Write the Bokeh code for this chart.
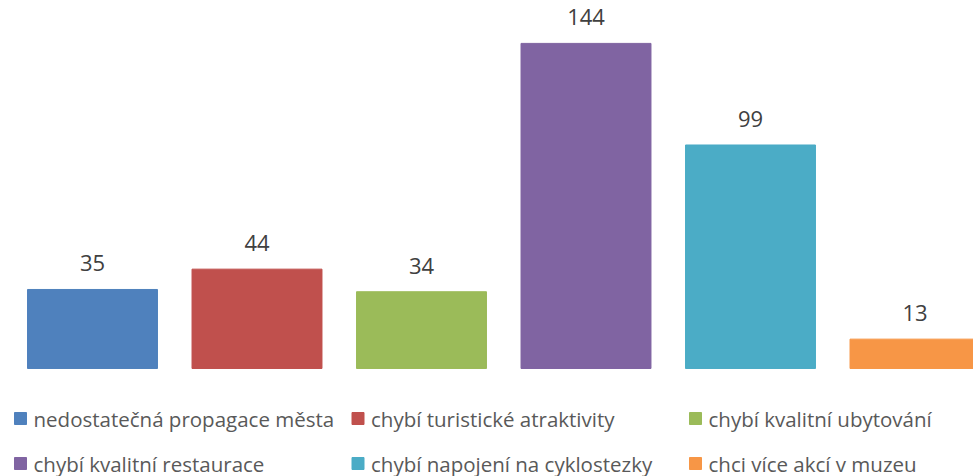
from bokeh.plotting import figure
from bokeh.layouts import column
from bokeh.models import Range1d, ColumnDataSource
from bokeh.core.properties import value
from bokeh.embed import file_html
from bokeh.resources import INLINE

categories = ["nedostatečná propagace města", "chybí turistické atraktivity",
              "chybí kvalitní ubytování", "chybí kvalitní restaurace",
              "chybí napojení na cyklostezky", "chci více akcí v muzeu"]
counts = [35, 44, 34, 144, 99, 13]
colors = ["#4F81BD", "#C0504D", "#9BBB59", "#8064A2", "#4BACC6", "#F79646"]

FONT = "Open Sans"

idx = list(range(len(categories)))
src = ColumnDataSource(dict(x=idx, top=counts, color=colors,
                            label=[str(c) for c in counts], cat=categories))

p = figure(width=973, height=390, output_backend="svg", toolbar_location=None,
           x_range=Range1d(-0.5593, 5.3556), y_range=Range1d(-9.75, 163.0),
           min_border=0, outline_line_color=None)
p.vbar(x="x", top="top", bottom=0, width=0.79, color="color", source=src)
p.text(x="x", y="top", text="label", source=src, y_offset=-26,
       text_align="center", text_baseline="middle", text_color="#404040",
       text_font=value(FONT), text_font_size="22px")
p.axis.visible = False
p.grid.visible = False

# legend figure (coordinates in reference pixels)
ncol = 3
lx = [20 + 337.5 * (i % ncol) for i in idx]
ly = [418 + 45 * (i // ncol) for i in idx]
lsrc = ColumnDataSource(dict(x=lx, y=ly, tx=[v + 13 for v in lx],
                             color=colors, cat=categories))
lg = figure(width=973, height=86, output_backend="svg", toolbar_location=None,
            x_range=Range1d(0, 973), y_range=Range1d(476, 390),
            min_border=0, outline_line_color=None)
lg.rect(x="x", y="y", width=12, height=12, color="color", source=lsrc,
        width_units="screen", height_units="screen")
lg.text(x="tx", y="y", text="cat", source=lsrc, text_baseline="middle",
        text_align="left", text_color="#595959", text_font=value(FONT),
        text_font_size="20.5px")
lg.axis.visible = False
lg.grid.visible = False

layout = column(p, lg, spacing=0)
open("out.html", "w").write(file_html(layout, INLINE))
